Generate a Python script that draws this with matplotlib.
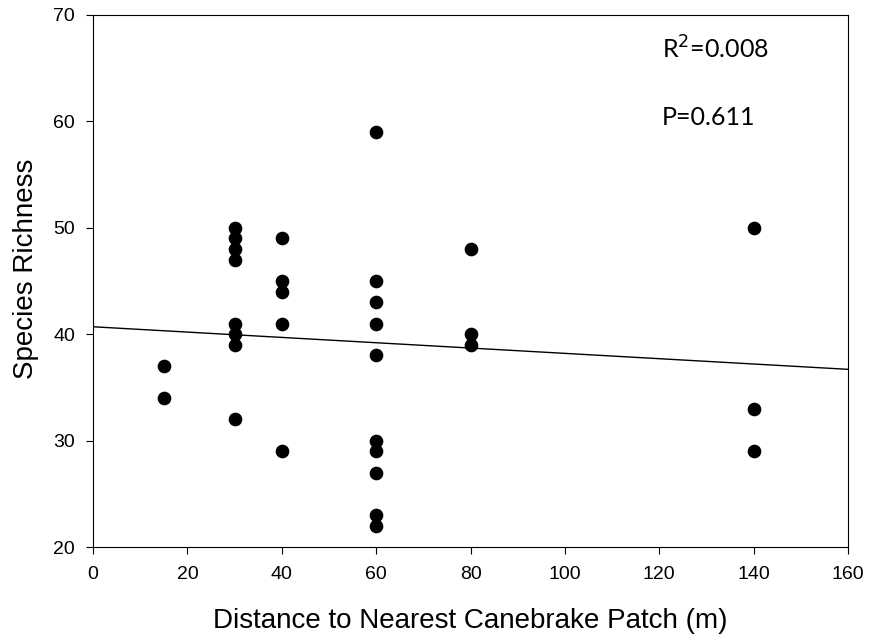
import matplotlib.pyplot as plt
import numpy as np

plt.rcParams['font.family'] = ['Liberation Sans', 'DejaVu Sans']

# データ（距離と種の豊富さ）
distance = [15, 15,
            30, 30, 30, 30, 30, 30, 30, 30,
            40, 40, 40, 40, 40,
            60, 60, 60, 60, 60, 60, 60, 60, 60, 60,
            80, 80, 80,
            140, 140, 140]
richness = [37, 34,
            50, 49, 48, 47, 41, 40, 39, 32,
            49, 45, 44, 41, 29,
            59, 45, 43, 41, 38, 30, 29, 27, 23, 22,
            48, 40, 39,
            50, 33, 29]

# 回帰直線の端点
fit_x = [0, 160]
fit_y = [40.7, 36.7]

fig = plt.figure(figsize=(8.71, 6.41), dpi=100)
ax = fig.add_axes([0.1068, 0.1466, 0.8668, 0.83])

ax.scatter(distance, richness, s=78, color='black', zorder=3)
ax.plot(fit_x, fit_y, color='black', lw=1)

ax.set_xlim(0, 160)
ax.set_ylim(20, 70)
ax.set_xticks(np.arange(0, 161, 20))
ax.set_yticks(np.arange(20, 71, 10))
ax.tick_params(direction='out', length=5, labelsize=14)
ax.tick_params(axis='x', pad=9)
ax.tick_params(axis='y', pad=8)

ax.set_xlabel('Distance to Nearest Canebrake Patch (m)', fontsize=20, labelpad=18)
ax.set_ylabel('Species Richness', fontsize=20, labelpad=10)
ax.yaxis.label.set_y(0.523)

txt_font = ['Lato', 'DejaVu Sans']
ax.text(120.6, 65.9, r'R$^2$=0.008', fontsize=18, va='baseline', family=txt_font)
ax.text(120.6, 59.66, 'P=0.611', fontsize=18, va='baseline', family=txt_font)

fig.savefig('out.png', dpi=100)
